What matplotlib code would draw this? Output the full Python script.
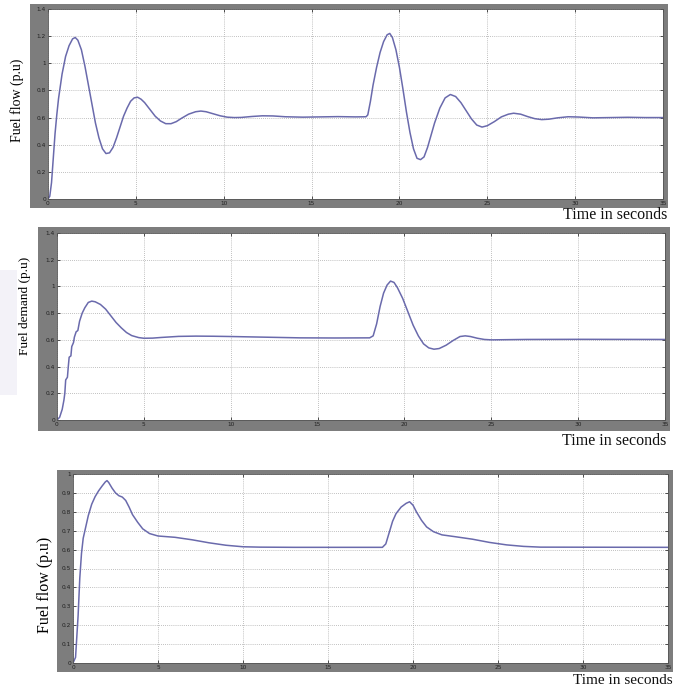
import matplotlib
matplotlib.use("Agg")
import matplotlib.pyplot as plt
from matplotlib.patches import Rectangle

# ---------------- data ----------------
t_flow1 = [0, 0.1, 0.2, 0.3, 0.4, 0.5, 0.6, 0.8, 1.0, 1.2, 1.4, 1.55, 1.7, 1.9, 2.1, 2.3, 2.5, 2.7, 2.9,
           3.1, 3.3, 3.5, 3.7, 3.9, 4.1, 4.3, 4.5, 4.7, 4.9, 5.1, 5.3, 5.5, 5.8, 6.1, 6.4, 6.7, 7.0, 7.3,
           7.6, 8.0, 8.4, 8.7, 9.0, 9.4, 9.8, 10.2, 10.6, 11.0, 11.6, 12.2, 12.8, 13.5, 14.5, 15.5, 16.5,
           17.5, 18.1, 18.2, 18.35, 18.5, 18.7, 18.9, 19.1, 19.3, 19.45, 19.6, 19.8, 20.0, 20.2, 20.4,
           20.6, 20.8, 21.0, 21.2, 21.4, 21.6, 21.8, 22.0, 22.3, 22.6, 22.9, 23.2, 23.5, 23.8, 24.1, 24.4,
           24.7, 25.0, 25.4, 25.8, 26.2, 26.5, 26.9, 27.3, 27.7, 28.1, 28.5, 29.0, 29.6, 30.2, 31.0, 32,
           33, 34, 35]
y_flow1 = [0, 0.02, 0.12, 0.3, 0.48, 0.62, 0.74, 0.92, 1.05, 1.13, 1.18, 1.19, 1.17, 1.10, 0.98, 0.84,
           0.70, 0.56, 0.45, 0.37, 0.335, 0.34, 0.38, 0.45, 0.53, 0.61, 0.67, 0.72, 0.745, 0.75, 0.735,
           0.71, 0.66, 0.61, 0.575, 0.555, 0.555, 0.57, 0.595, 0.625, 0.643, 0.648, 0.643, 0.628, 0.613,
           0.603, 0.600, 0.601, 0.608, 0.613, 0.612, 0.606, 0.603, 0.605, 0.607, 0.605, 0.606, 0.62, 0.72,
           0.84, 0.97, 1.08, 1.16, 1.21, 1.22, 1.19, 1.10, 0.97, 0.81, 0.64, 0.49, 0.37, 0.30, 0.29, 0.31,
           0.38, 0.47, 0.56, 0.67, 0.745, 0.77, 0.755, 0.71, 0.65, 0.59, 0.545, 0.53, 0.54, 0.57, 0.605,
           0.625, 0.632, 0.625, 0.607, 0.592, 0.585, 0.588, 0.598, 0.606, 0.604, 0.598, 0.600, 0.602,
           0.600, 0.600]

t_demand = [0, 0.15, 0.3, 0.4, 0.45, 0.5, 0.6, 0.65, 0.7, 0.8, 0.85, 0.95, 1.0, 1.1, 1.2, 1.3, 1.45,
            1.6, 1.8, 2.0, 2.2, 2.5, 2.8, 3.1, 3.4, 3.7, 4.0, 4.3, 4.7, 5.0, 5.5, 6.0, 7.0, 8.0, 9.0,
            10.0, 12.0, 14.0, 16.0, 18.0, 18.2, 18.4, 18.6, 18.8, 19.0, 19.2, 19.4, 19.6, 19.9, 20.2,
            20.5, 20.8, 21.1, 21.4, 21.7, 22.0, 22.4, 22.8, 23.2, 23.5, 23.8, 24.2, 24.6, 25, 27, 30, 35]
y_demand = [0, 0.02, 0.08, 0.15, 0.2, 0.3, 0.32, 0.4, 0.47, 0.48, 0.55, 0.58, 0.62, 0.66, 0.67, 0.74,
            0.8, 0.84, 0.88, 0.89, 0.885, 0.865, 0.83, 0.78, 0.73, 0.69, 0.655, 0.632, 0.617, 0.612,
            0.613, 0.618, 0.626, 0.628, 0.627, 0.625, 0.62, 0.615, 0.614, 0.615, 0.63, 0.72, 0.85,
            0.95, 1.01, 1.04, 1.03, 0.99, 0.91, 0.81, 0.71, 0.63, 0.57, 0.54, 0.53, 0.535, 0.56,
            0.595, 0.625, 0.63, 0.625, 0.612, 0.603, 0.600, 0.603, 0.604, 0.603]

t_flow2 = [0, 0.15, 0.3, 0.4, 0.5, 0.6, 0.75, 0.9, 1.1, 1.3, 1.5, 1.7, 1.9, 2.0, 2.1, 2.3, 2.5, 2.7,
           2.9, 3.1, 3.3, 3.5, 3.8, 4.1, 4.5, 5.0, 6.0, 7.0, 8.0, 9.0, 10.0, 11, 13, 18.2, 18.4, 18.6,
           18.8, 19.0, 19.3, 19.6, 19.8, 20.0, 20.2, 20.5, 20.8, 21.2, 21.7, 22.5, 23.5, 24.5, 25.5,
           26.5, 27.5, 35]
y_flow2 = [0, 0.03, 0.25, 0.45, 0.58, 0.66, 0.72, 0.78, 0.84, 0.88, 0.91, 0.935, 0.958, 0.965, 0.955,
           0.925, 0.9, 0.885, 0.878, 0.86, 0.825, 0.785, 0.745, 0.71, 0.685, 0.672, 0.665, 0.652,
           0.636, 0.623, 0.615, 0.613, 0.612, 0.612, 0.63, 0.69, 0.75, 0.79, 0.825, 0.845, 0.853,
           0.835, 0.8, 0.755, 0.72, 0.695, 0.678, 0.668, 0.655, 0.638, 0.625, 0.617, 0.613, 0.612]

x_ticks = [0, 5, 10, 15, 20, 25, 30, 35]
y_ticks_a = [0, 0.2, 0.4, 0.6, 0.8, 1.0, 1.2, 1.4]
y_labels_a = ["0", "0.2", "0.4", "0.6", "0.8", "1", "1.2", "1.4"]
y_ticks_b = [0, 0.1, 0.2, 0.3, 0.4, 0.5, 0.6, 0.7, 0.8, 0.9, 1.0]
y_labels_b = ["0", "0.1", "0.2", "0.3", "0.4", "0.5", "0.6", "0.7", "0.8", "0.9", "1"]
y_titles = ["Fuel flow (p.u)", "Fuel demand (p.u)", "Fuel flow (p.u)"]
x_title = "Time in seconds"

# ---------------- layout ----------------
W = H = 688.0
fig = plt.figure(figsize=(6.88, 6.88), dpi=100)
fig.patch.set_facecolor("white")

LINE = "#6a6aac"
FRAME = "#7d7d7d"
SERIF = ["Liberation Serif", "DejaVu Serif"]


def fx(x):
    return x / W


def fy(y):
    return 1 - y / H


# faint background patch (left of the middle panel)
fig.add_artist(Rectangle((0, fy(395)), fx(17), 125 / H, transform=fig.transFigure,
                         facecolor="#f3f2f8", edgecolor="none", zorder=-10))


def panel(frame, box, t, y, ylim, yt, yl, ytitle, ytitle_pos, ytitle_size, xtitle_pos, xtitle_size):
    fl, ft, fr, fb = frame
    rect = Rectangle((fx(fl), fy(fb)), fx(fr - fl), (fb - ft) / H,
                     transform=fig.transFigure, facecolor=FRAME,
                     edgecolor="none", zorder=-5)
    fig.add_artist(rect)
    l, tp, r, b = box
    ax = fig.add_axes([fx(l), fy(b), fx(r - l), (b - tp) / H])
    ax.set_zorder(2)
    ax.set_facecolor("white")
    ax.plot(t, y, color=LINE, lw=1.1)
    ax.set_xlim(0, 35)
    ax.set_ylim(*ylim)
    ax.set_xticks(x_ticks)
    ax.set_xticklabels([str(v) for v in x_ticks])
    ax.set_yticks(yt)
    ax.set_yticklabels(yl)
    ax.grid(True, color="#acacac", linestyle=(0, (1, 1.5)), linewidth=0.6)
    ax.tick_params(direction="in", length=2.5, width=0.6, top=True, right=True,
                   labelsize=4.2, colors="#333333", pad=1.5)
    ax.tick_params(labelcolor="#222222")
    for s in ax.spines.values():
        s.set_color("#555555")
        s.set_linewidth(0.6)
    fig.text(fx(ytitle_pos[0]), fy(ytitle_pos[1]), ytitle, rotation=90, ha="center",
             va="center", family=SERIF, fontsize=ytitle_size, color="black")
    fig.text(fx(xtitle_pos[0]), fy(xtitle_pos[1]), x_title, ha="right", va="center",
             family=SERIF, fontsize=xtitle_size, color="#111111")
    return ax


panel((30, 4, 668, 208), (48, 9, 663, 199), t_flow1, y_flow1, (0, 1.4), y_ticks_a, y_labels_a,
      y_titles[0], (17, 100), 10, (667, 215), 11.5)
panel((38, 227, 670, 431), (57, 233, 665, 420), t_demand, y_demand, (0, 1.4), y_ticks_a, y_labels_a,
      y_titles[1], (25, 306), 9.5, (666, 441), 11.5)
panel((57, 470, 673, 672), (73, 474, 668, 663), t_flow2, y_flow2, (0, 1.0), y_ticks_b, y_labels_b,
      y_titles[2], (45, 585), 11.5, (673, 680), 11)

fig.savefig("out.png", dpi=100, facecolor="white")
